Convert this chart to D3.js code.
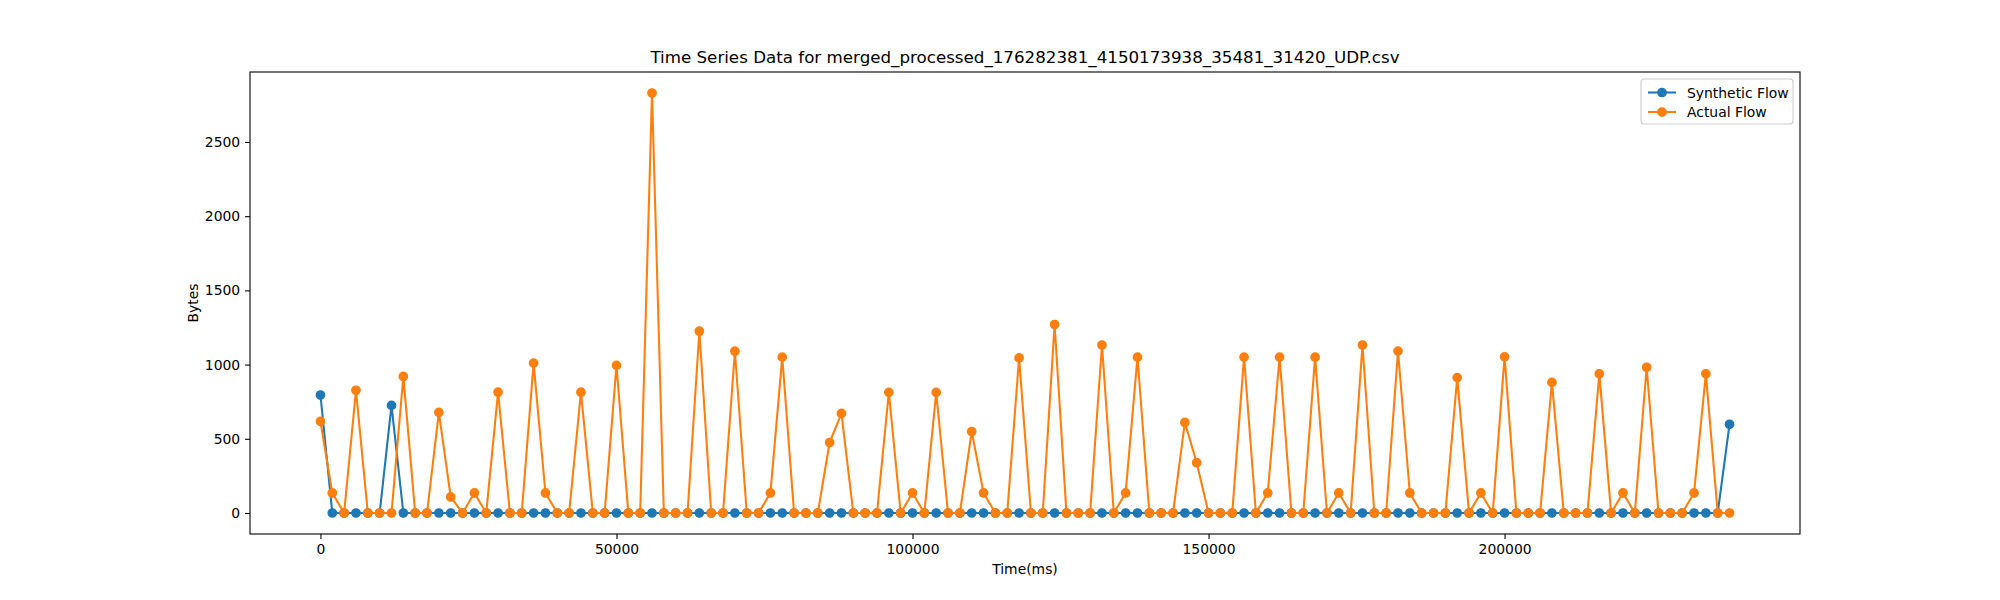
<!DOCTYPE html>
<html>
<head>
<meta charset="utf-8">
<script src="https://cdn.jsdelivr.net/npm/d3@7"></script>
<style>
  body { margin: 0; background: #fff; }
  text { font-family: "DejaVu Sans", sans-serif; }
</style>
</head>
<body>
<div id="chart"></div>
<script>
// time steps, every 2000 ms
var timeMs = d3.range(0, 240000, 2000);

var syntheticFlow = [
  795, 0, 0, 0, 0, 0, 725, 0, 0, 0,
  0, 0, 0, 0, 0, 0, 0, 0, 0, 0,
  0, 0, 0, 0, 0, 0, 0, 0, 0, 0,
  0, 0, 0, 0, 0, 0, 0, 0, 0, 0,
  0, 0, 0, 0, 0, 0, 0, 0, 0, 0,
  0, 0, 0, 0, 0, 0, 0, 0, 0, 0,
  0, 0, 0, 0, 0, 0, 0, 0, 0, 0,
  0, 0, 0, 0, 0, 0, 0, 0, 0, 0,
  0, 0, 0, 0, 0, 0, 0, 0, 0, 0,
  0, 0, 0, 0, 0, 0, 0, 0, 0, 0,
  0, 0, 0, 0, 0, 0, 0, 0, 0, 0,
  0, 0, 0, 0, 0, 0, 0, 0, 0, 598
];

var actualFlow = [
  617, 135, 0, 827, 0, 0, 0, 920, 0, 0,
  678, 108, 0, 135, 0, 814, 0, 0, 1010, 135,
  0, 0, 814, 0, 0, 995, 0, 0, 2830, 0,
  0, 0, 1225, 0, 0, 1090, 0, 0, 135, 1050,
  0, 0, 0, 475, 671, 0, 0, 0, 813, 0,
  135, 0, 813, 0, 0, 549, 135, 0, 0, 1045,
  0, 0, 1270, 0, 0, 0, 1132, 0, 135, 1050,
  0, 0, 0, 610, 339, 0, 0, 0, 1050, 0,
  135, 1050, 0, 0, 1050, 0, 135, 0, 1132, 0,
  0, 1091, 135, 0, 0, 0, 912, 0, 135, 0,
  1052, 0, 0, 0, 880, 0, 0, 0, 938, 0,
  135, 0, 982, 0, 0, 0, 135, 938, 0, 0
];

var seriesNames = ["Synthetic Flow", "Actual Flow"];
var seriesColors = ["#1f77b4", "#ff7f0e"];
var xTicks = [0, 50000, 100000, 150000, 200000];
var yTicks = [0, 500, 1000, 1500, 2000, 2500];

var svgWidth = 2000;
var svgHeight = 600;

var margin = {
  top: 72,
  right: 200,
  bottom: 66,
  left: 250
};

var width = svgWidth - margin.left - margin.right;
var height = svgHeight - margin.top - margin.bottom;

var svg = d3.select("#chart")
  .append("svg")
  .attr("width", svgWidth)
  .attr("height", svgHeight);

var chartGroup = svg.append("g")
  .attr("transform", `translate(${margin.left}, ${margin.top})`);

// matplotlib style 5% padding
var xMin = d3.min(timeMs), xMax = d3.max(timeMs);
var xPad = (xMax - xMin) * 0.05;
var yMax = d3.max(actualFlow.concat(syntheticFlow));
var yPad = yMax * 0.05;

var xScale = d3.scaleLinear()
  .domain([xMin - xPad, xMax + xPad])
  .range([0, width]);

var yScale = d3.scaleLinear()
  .domain([-yPad, yMax + yPad])
  .range([height, 0]);

var bottomAxis = d3.axisBottom(xScale)
  .tickValues(xTicks)
  .tickFormat(d3.format("d"))
  .tickSizeInner(4.9)
  .tickSizeOuter(0)
  .tickPadding(4.9);

var leftAxis = d3.axisLeft(yScale)
  .tickValues(yTicks)
  .tickFormat(d3.format("d"))
  .tickSizeInner(4.9)
  .tickSizeOuter(0)
  .tickPadding(4.9);

var xAxis = chartGroup.append("g")
  .attr("transform", `translate(0, ${height})`)
  .call(bottomAxis);

var yAxis = chartGroup.append("g")
  .call(leftAxis);

[xAxis, yAxis].forEach(function(ax) {
  ax.select(".domain").remove();
  ax.selectAll(".tick line").attr("stroke", "#000").attr("stroke-width", 1.1);
  ax.selectAll(".tick text")
    .style("font-size", "13.9px")
    .style("font-family", "DejaVu Sans, sans-serif")
    .attr("fill", "#000");
});

// clip so lines stay inside axes
svg.append("defs").append("clipPath")
  .attr("id", "plotClip")
  .append("rect")
  .attr("width", width)
  .attr("height", height);

var plotGroup = chartGroup.append("g").attr("clip-path", "url(#plotClip)");

var line = d3.line()
  .x(d => xScale(d.t))
  .y(d => yScale(d.v));

[syntheticFlow, actualFlow].forEach(function(values, i) {
  var pts = timeMs.map((t, j) => ({ t: t, v: values[j] }));
  var g = plotGroup.append("g");
  g.append("path")
    .datum(pts)
    .attr("d", line)
    .attr("fill", "none")
    .attr("stroke", seriesColors[i])
    .attr("stroke-width", 2.08)
    .attr("stroke-linejoin", "round")
    .attr("stroke-linecap", "square");
  g.selectAll("circle")
    .data(pts)
    .enter()
    .append("circle")
    .attr("cx", d => xScale(d.t))
    .attr("cy", d => yScale(d.v))
    .attr("r", 4.17)
    .attr("fill", seriesColors[i])
    .attr("stroke", seriesColors[i])
    .attr("stroke-width", 1.39);
});

// axes frame
chartGroup.append("rect")
  .attr("width", width)
  .attr("height", height)
  .attr("fill", "none")
  .attr("stroke", "#000")
  .attr("stroke-width", 1.1);

// title and labels
svg.append("text")
  .attr("x", margin.left + width / 2)
  .attr("y", margin.top - 9)
  .attr("text-anchor", "middle")
  .style("font-size", "16.7px")
  .text("Time Series Data for merged_processed_176282381_4150173938_35481_31420_UDP.csv");

svg.append("text")
  .attr("x", margin.left + width / 2)
  .attr("y", 574)
  .attr("text-anchor", "middle")
  .style("font-size", "13.9px")
  .text("Time(ms)");

svg.append("text")
  .attr("transform", `translate(198, ${margin.top + height / 2}) rotate(-90)`)
  .attr("text-anchor", "middle")
  .style("font-size", "13.9px")
  .text("Bytes");

// legend
var legend = svg.append("g")
  .attr("transform", "translate(1641, 79)");

legend.append("rect")
  .attr("width", 152)
  .attr("height", 45)
  .attr("rx", 3)
  .attr("fill", "#fff")
  .attr("fill-opacity", 0.8)
  .attr("stroke", "#cccccc")
  .attr("stroke-width", 1.1);

seriesNames.forEach(function(name, i) {
  var yy = 13.5 + i * 19.5;
  legend.append("line")
    .attr("x1", 7).attr("x2", 35)
    .attr("y1", yy).attr("y2", yy)
    .attr("stroke", seriesColors[i])
    .attr("stroke-width", 2.08);
  legend.append("circle")
    .attr("cx", 21).attr("cy", yy)
    .attr("r", 4.17)
    .attr("fill", seriesColors[i])
    .attr("stroke", seriesColors[i])
    .attr("stroke-width", 1.39);
  legend.append("text")
    .attr("x", 46)
    .attr("y", yy + 5)
    .style("font-size", "13.9px")
    .text(name);
});
</script>
</body>
</html>
